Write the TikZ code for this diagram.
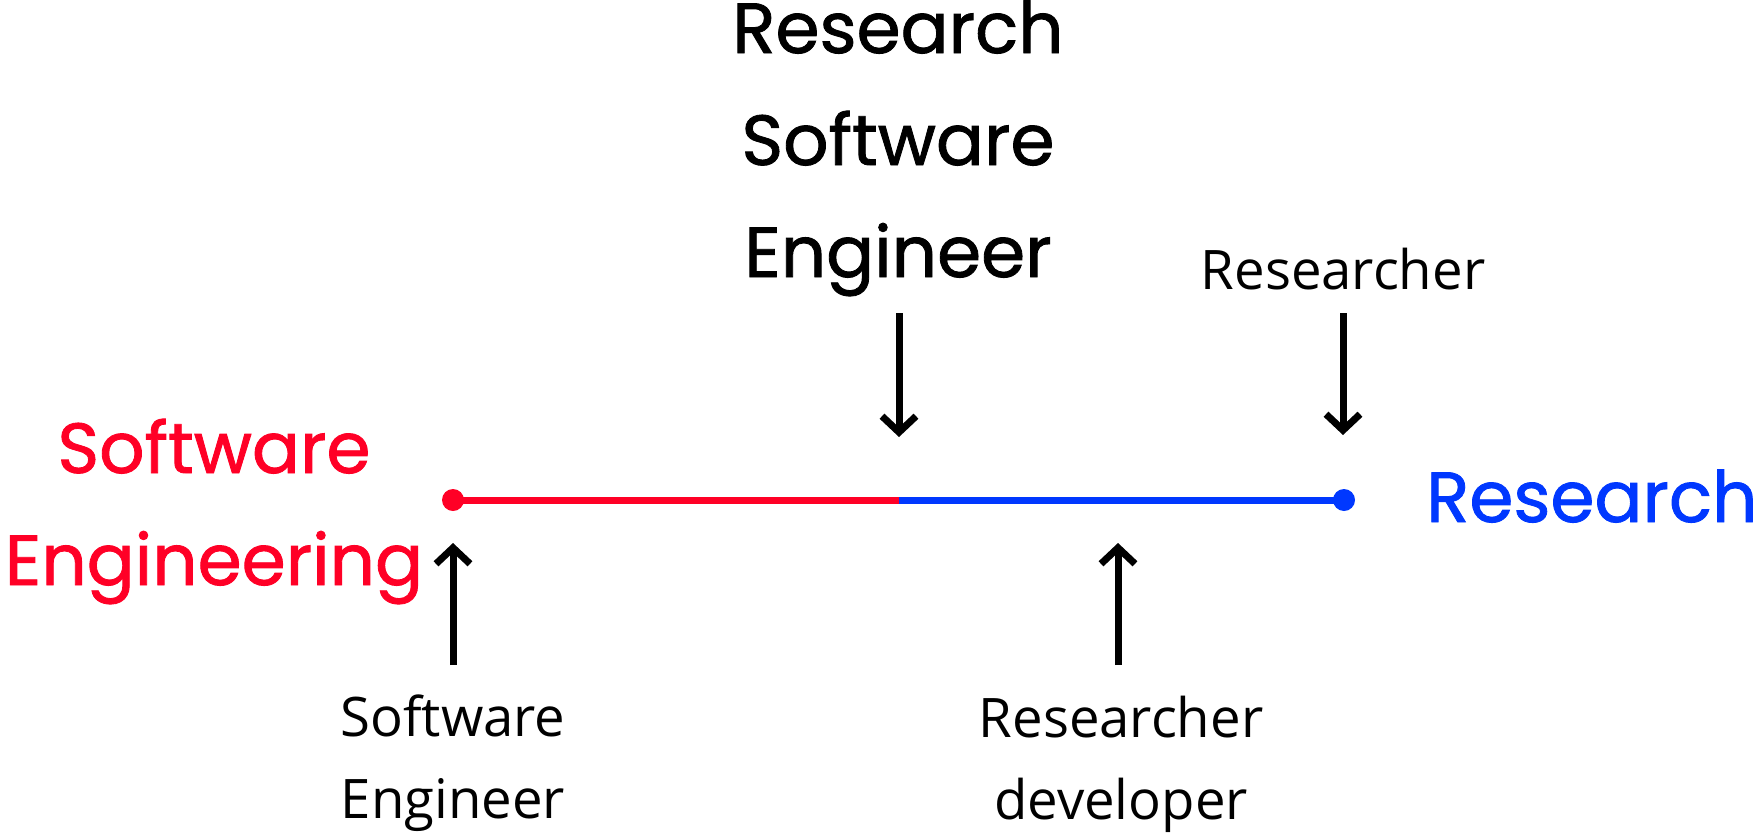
\documentclass[tikz,border=0pt]{standalone}
\usepackage{fontspec}
\setmainfont{Open Sans}
\newfontfamily\headfont{Poppins}[FakeBold=1.2]
\usetikzlibrary{arrows.meta}
\definecolor{sered}{RGB}{255,0,38}
\definecolor{resblue}{RGB}{0,56,255}
\begin{document}
\begin{tikzpicture}[x=1pt,y=-1pt,
  big/.style={inner sep=0pt, align=center, anchor=base,
    font=\headfont\fontsize{71}{112}\selectfont},
  small/.style={inner sep=0pt, align=center, anchor=base,
    font=\fontsize{54.5}{82}\selectfont},
  dot/.style={circle, inner sep=0pt, minimum size=22pt},
  pointer/.style={line width=7pt, -{Straight Barb[length=16pt,width=34pt]}},
  axis/.style={line width=7pt}]
\useasboundingbox (0,0) rectangle (1755,838);

% the axis between the two poles
\node[dot, fill=sered] (se) at (453,500) {};
\node[dot, fill=resblue] (rs) at (1344,500) {};
\coordinate (mid) at (899,500);
\draw[axis, sered] (se.center) -- (mid);
\draw[axis, resblue] (mid) -- (rs.center);

% pole labels (base anchor sits on the last line)
\node[big, text=sered] (seLabel) at (214,585) {Software\\Engineering};
\node[big, text=resblue, anchor=base west] (rsLabel) at (1426,522) {Research};

% roles placed along the axis
\node[big] (rse) at (898,277) {Research\\Software\\Engineer};
\node[small] (researcher) at (1343,289) {Researcher};
\node[small] (swe) at (453,818) {Software\\Engineer};
\node[small] (resdev) at (1121,819) {Researcher\\developer};

% arrow ends
\coordinate (rseTop) at (899,313);
\coordinate (rseTip) at (899,437);
\coordinate (resTop) at (1343,313);
\coordinate (resTip) at (1343,435);
\coordinate (sweBot) at (453,665);
\coordinate (sweTip) at (453,543);
\coordinate (rdBot) at (1118,665);
\coordinate (rdTip) at (1118,543);

\draw[pointer] (rseTop) -- (rseTip);
\draw[pointer] (resTop) -- (resTip);
\draw[pointer] (sweBot) -- (sweTip);
\draw[pointer] (rdBot) -- (rdTip);
\end{tikzpicture}
\end{document}
